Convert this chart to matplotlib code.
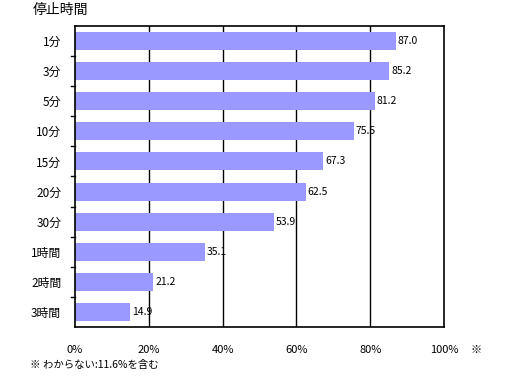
import matplotlib.pyplot as plt
import numpy as np

plt.rcParams["font.family"] = ["Noto Sans CJK JP", "DejaVu Sans"]

categories = ["1分", "3分", "5分", "10分", "15分", "20分", "30分", "1時間", "2時間", "3時間"]
values = [87.0, 85.2, 81.2, 75.5, 67.3, 62.5, 53.9, 35.1, 21.2, 14.9]
xticks = [0, 20, 40, 60, 80, 100]
xtick_labels = ["0%", "20%", "40%", "60%", "80%", "100%"]

fig = plt.figure(figsize=(5.12, 3.78), dpi=100)
ax = fig.add_axes([75 / 512, 51 / 378, 369 / 512, 301 / 378])

y = np.arange(len(categories))
ax.barh(y, values, height=0.6, color="#9999FF", zorder=2)
for yi, v in zip(y, values):
    ax.text(v + 0.5, yi, f"{v:.1f}", va="center", ha="left", fontsize=7.5, zorder=3)

ax.set_xlim(0, 100)
ax.set_ylim(len(categories) - 0.5, -0.5)
ax.set_xticks(xticks)
ax.set_xticklabels(xtick_labels, fontsize=8)
ax.tick_params(axis="x", length=0, pad=13)
for x in xticks[1:-1]:
    ax.axvline(x, color="black", lw=1, zorder=1)

ax.set_yticks(y)
ax.set_yticklabels(categories, fontsize=8.5)
ax.tick_params(axis="y", length=0, pad=10)
# ticks between categories on the left axis
for b in np.arange(0.5, len(categories) - 1, 1.0):
    ax.plot([-1.2, 0], [b, b], color="black", lw=1, clip_on=False)

for s in ax.spines.values():
    s.set_linewidth(1.2)

fig.text(33 / 512, 1 - 10 / 378, "停止時間", fontsize=10, va="center", ha="left")
fig.text(470 / 512, 1 - 350 / 378, "※", fontsize=8, va="center", ha="left")
fig.text(30 / 512, 1 - 365 / 378, "※ わからない:11.6%を含む", fontsize=7.5, va="center", ha="left")

fig.savefig("out.png", dpi=100)
